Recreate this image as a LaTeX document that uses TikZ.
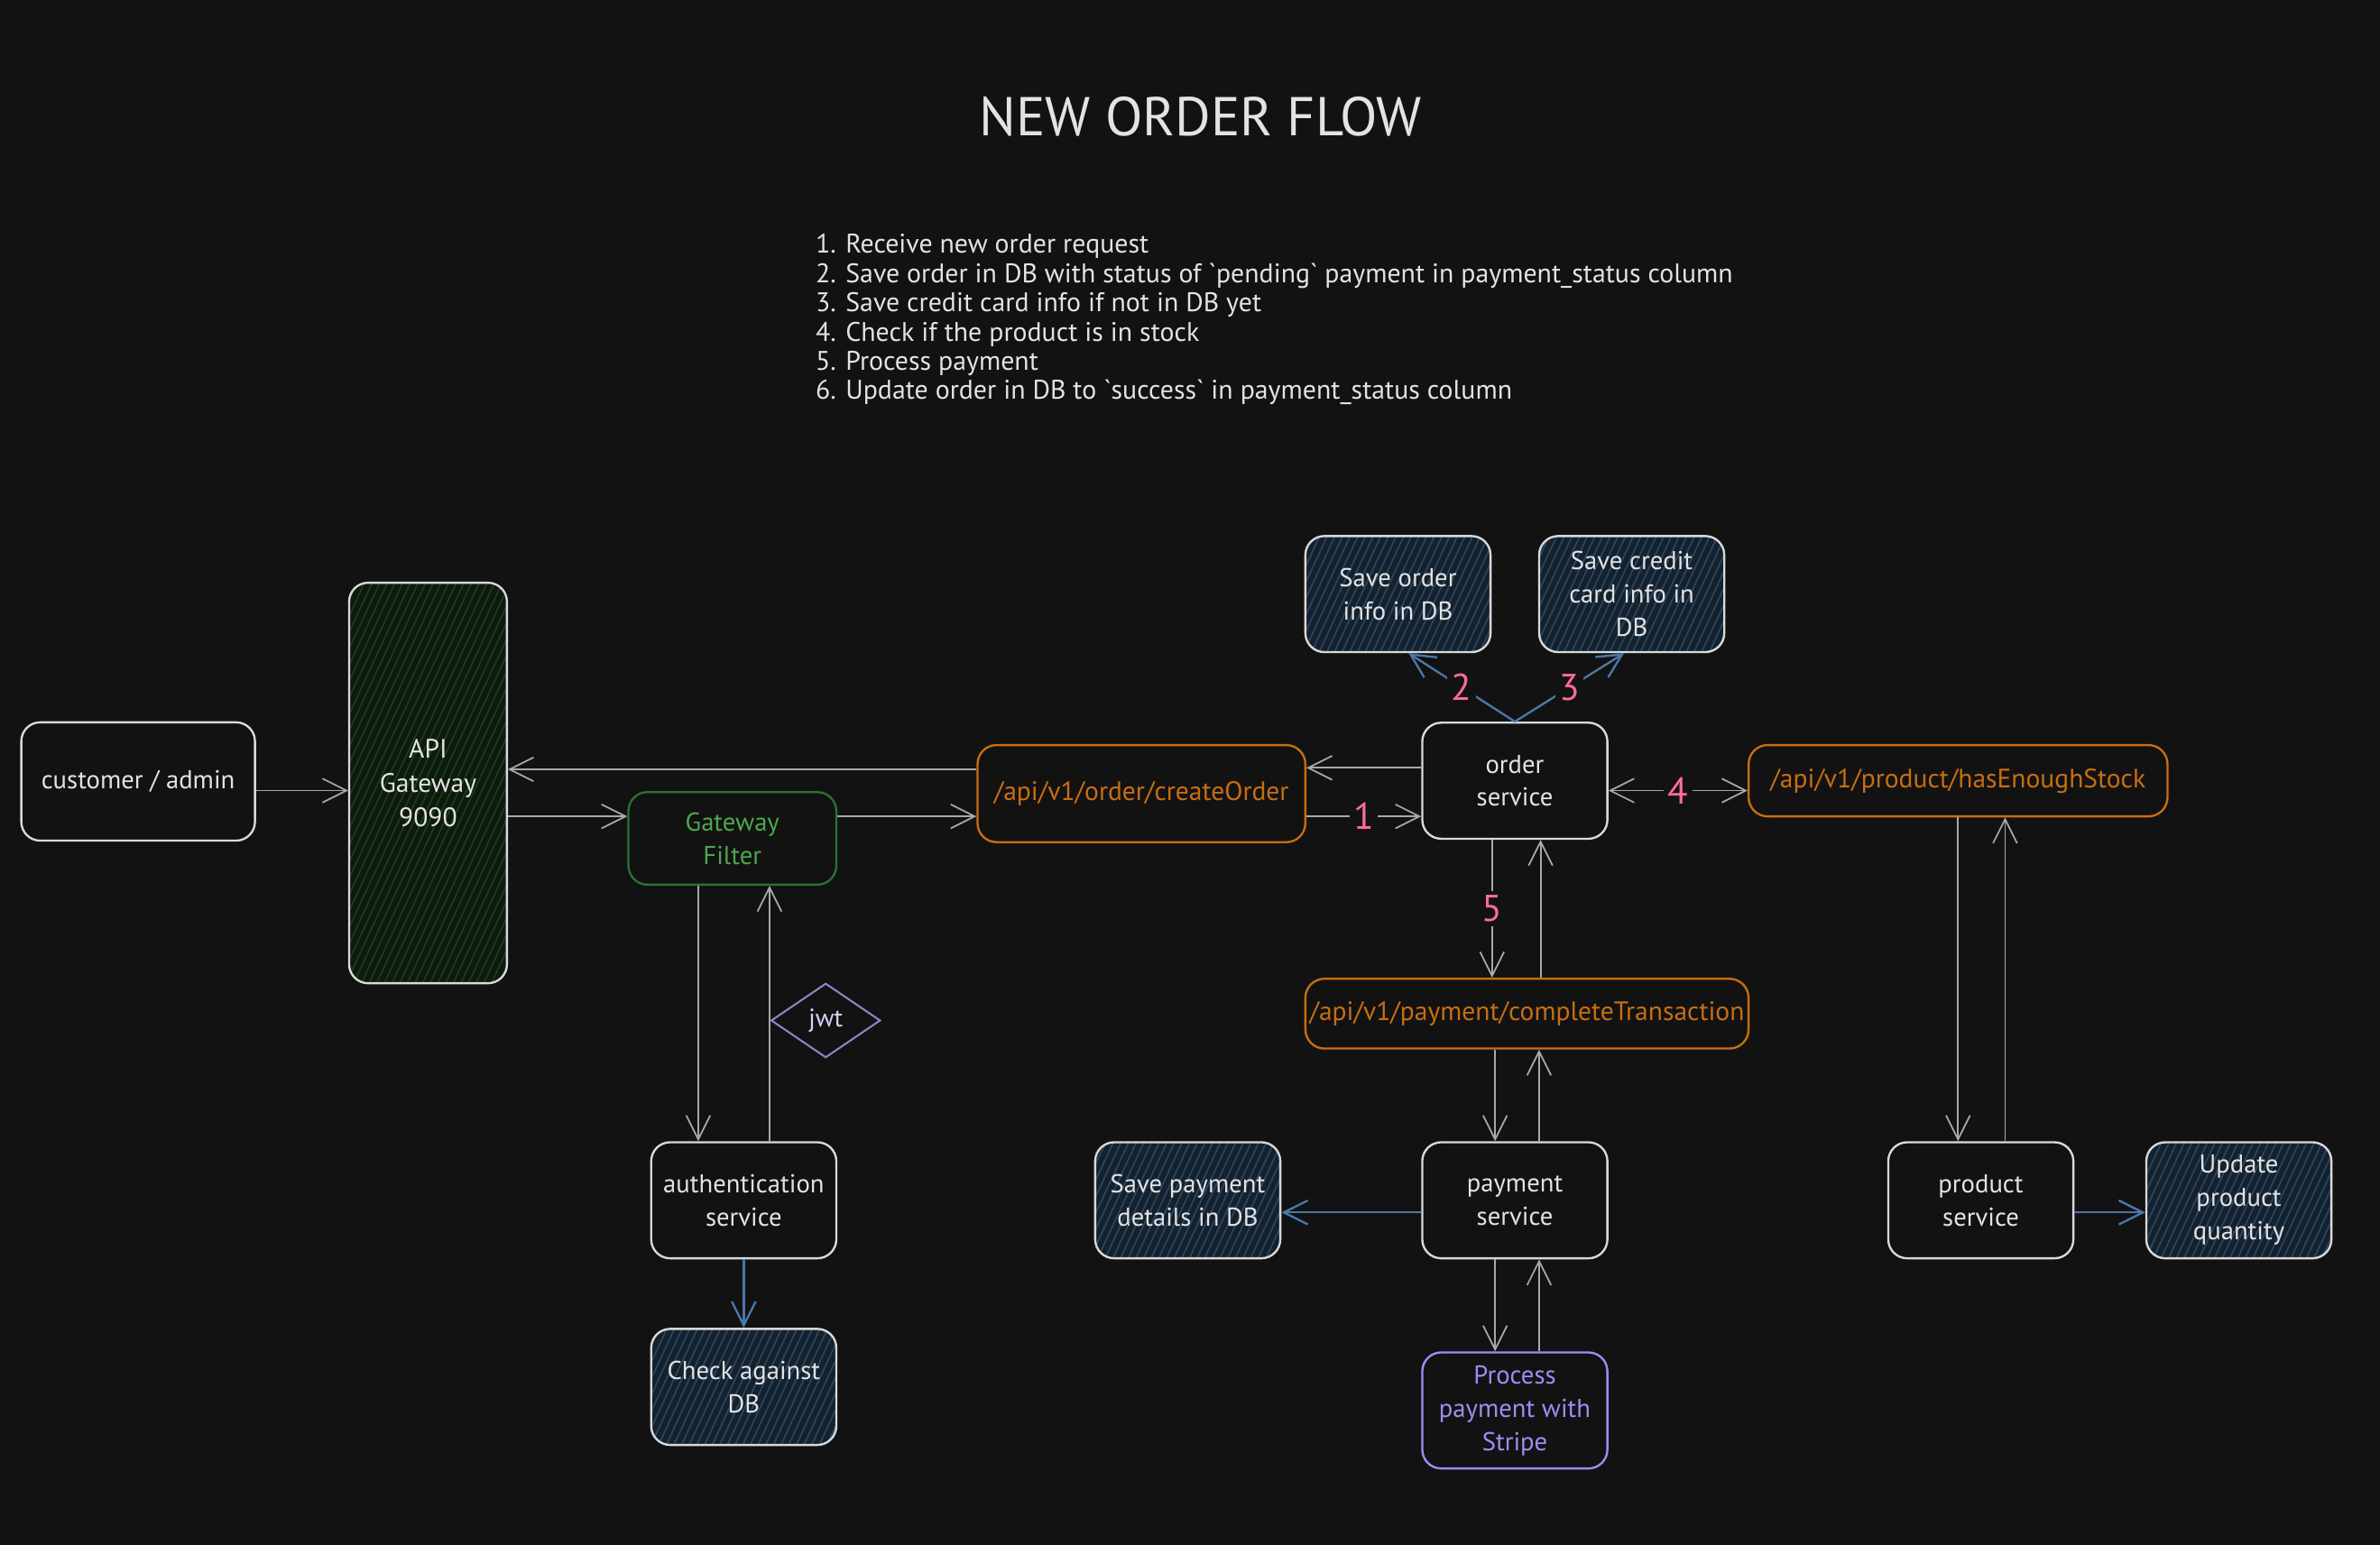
\documentclass[tikz,border=0pt]{standalone}
\usepackage{fontspec}
\setmainfont{PT Sans}
\usetikzlibrary{arrows.meta,patterns.meta,shapes.geometric}
\definecolor{bg}{HTML}{121212}
\definecolor{txt}{HTML}{E3E3E3}
\definecolor{stroke}{HTML}{D9D9D9}
\definecolor{arrgray}{HTML}{A8A8A8}
\definecolor{blueline}{HTML}{4A77A8}
\definecolor{pinklbl}{HTML}{FF6B9D}
\definecolor{orangec}{HTML}{C86E12}
\definecolor{greenb}{HTML}{2E7031}
\definecolor{greent}{HTML}{4EA64E}
\definecolor{purplec}{HTML}{A38BF5}
\definecolor{jwtc}{HTML}{8A86C8}
\definecolor{jwtt}{HTML}{D4D2FF}
\definecolor{blueBase}{HTML}{15212C}
\definecolor{blueHatch}{HTML}{284660}
\definecolor{greenBase}{HTML}{0E1A0E}
\definecolor{greenHatch}{HTML}{1A3C1B}
\begin{document}
\begin{tikzpicture}[x=0.02cm,y=-0.02cm,
  box/.style={draw=stroke, line width=0.8pt, rounded corners=0.25cm, fill=bg, text=txt, align=center,
    font=\fontsize{9.7}{12.5}\selectfont, minimum width=2.44cm, minimum height=1.53cm, inner sep=1pt},
  hatchblue/.style={box, preaction={fill=blueBase}, fill=none,
    pattern={Lines[angle=65,distance=2.6pt,line width=0.6pt]}, pattern color=blueHatch},
  hatchgreen/.style={box, preaction={fill=greenBase}, fill=none,
    pattern={Lines[angle=65,distance=2.6pt,line width=0.6pt]}, pattern color=greenHatch},
  endpoint/.style={box, draw=orangec, text=orangec, font=\fontsize{10}{12}\selectfont},
  arr/.style={draw=arrgray, line width=0.6pt, -{Straight Barb[length=9pt,width=9pt]}},
  dblarr/.style={draw=arrgray, line width=0.6pt, {Straight Barb[length=9pt,width=9pt]}-{Straight Barb[length=9pt,width=9pt]}},
  barr/.style={draw=blueline, line width=0.8pt, -{Straight Barb[length=9pt,width=9pt]}},
  num/.style={text=pinklbl, fill=bg, inner sep=1.5pt, font=\fontsize{14}{14}\selectfont}
]
\fill[bg] (0,0) rectangle (1568,1018);
\useasboundingbox (0,0) rectangle (1568,1018);

% title and list
\node[text=txt, font=\fontsize{20.5}{22}\selectfont] (title) at (791,77) {NEW ORDER FLOW};
\node[text=txt, anchor=north west, align=left, inner sep=0pt, font=\fontsize{10.1}{10.95}\selectfont] (steps) at (537,154) {%
1. Receive new order request\\
2. Save order in DB with status of \textasciigrave pending\textasciigrave\ payment in payment\_status column\\
3. Save credit card info if not in DB yet\\
4. Check if the product is in stock\\
5. Process payment\\
6. Update order in DB to \textasciigrave success\textasciigrave\ in payment\_status column};

% nodes
\node[box, minimum width=3.08cm, minimum height=1.56cm] (cust) at (91,515) {customer / admin};
\node[hatchgreen, minimum width=2.08cm, minimum height=5.28cm, font=\fontsize{10}{13}\selectfont] (api) at (282,516) {API\\Gateway\\9090};
\node[box, draw=greenb, text=greent, minimum width=2.74cm, minimum height=1.22cm] (filter) at (482.5,552.5) {Gateway\\Filter};
\node[endpoint, minimum width=4.32cm, minimum height=1.28cm] (create) at (752,523) {/api/v1/order/createOrder};
\node[box] (order) at (998,514.5) {order\\service};
\node[hatchblue] (saveorder) at (921,391.5) {Save order\\info in DB};
\node[hatchblue] (savecc) at (1075,391.5) {Save credit\\card info in\\DB};
\node[endpoint, minimum width=5.52cm, minimum height=0.94cm] (stock) at (1290,514.5) {/api/v1/product/hasEnoughStock};
\node[endpoint, minimum width=5.84cm, minimum height=0.92cm] (complete) at (1006,668) {/api/v1/payment/completeTransaction};
\node[box] (auth) at (490,791) {authentication\\service};
\node[hatchblue] (check) at (490,914) {Check against\\DB};
\node[diamond, draw=jwtc, line width=0.7pt, text=jwtt, fill=bg, minimum width=1.44cm, minimum height=0.98cm, inner sep=0pt, font=\fontsize{9.5}{11}\selectfont] (jwt) at (544,672.5) {jwt};
\node[hatchblue] (savepay) at (782.5,791) {Save payment\\details in DB};
\node[box] (pay) at (998,791) {payment\\service};
\node[box, draw=purplec, text=purplec] (stripe) at (998,929.5) {Process\\payment with\\Stripe};
\node[box] (product) at (1305,791) {product\\service};
\node[hatchblue] (update) at (1475,791) {Update\\product\\quantity};

% connectors
\draw[arr] ([yshift=-0.12cm]cust.east) -- ([yshift=-0.12cm]cust.east -| api.west);
\draw[arr] ([yshift=0.32cm]create.west) -- ([yshift=0.32cm]create.west -| api.east);
\draw[arr] ([yshift=0.29cm]filter.west -| api.east) -- ([yshift=0.29cm]filter.west);
\draw[arr] ([yshift=0.29cm]filter.east) -- ([yshift=0.29cm]filter.east -| create.west);
\draw[arr] ([yshift=0.17cm]order.west) -- ([yshift=0.17cm]order.west -| create.east);
\draw[arr] ([yshift=-0.47cm]order.west -| create.east) -- node[num] (n1) {1} ([yshift=-0.47cm]order.west);
\draw[dblarr] ([yshift=-0.13cm]order.east) -- node[num] (n4) {4} ([yshift=-0.13cm]order.east -| stock.west);
\draw[barr] (order.north) -- node[num] (n2) {2} ([xshift=0.14cm]saveorder.south);
\draw[barr] (order.north) -- node[num] (n3) {3} ([xshift=-0.1cm]savecc.south);
\draw[arr] ([xshift=-0.3cm]order.south) -- node[num] (n5) {5} ([xshift=-0.3cm]order.south |- complete.north);
\draw[arr] ([xshift=0.34cm]order.south |- complete.north) -- ([xshift=0.34cm]order.south);
\draw[arr] ([xshift=-0.26cm]pay.north |- complete.south) -- ([xshift=-0.26cm]pay.north);
\draw[arr] ([xshift=0.32cm]pay.north) -- ([xshift=0.32cm]pay.north |- complete.south);
\draw[arr] ([xshift=-0.26cm]pay.south) -- ([xshift=-0.26cm]stripe.north);
\draw[arr] ([xshift=0.32cm]stripe.north) -- ([xshift=0.32cm]pay.south);
\draw[barr] ([yshift=-0.16cm]pay.west) -- ([yshift=-0.16cm]pay.west -| savepay.east);
\draw[arr] ([xshift=-0.3cm]product.north |- stock.south) -- ([xshift=-0.3cm]product.north);
\draw[arr] ([xshift=0.32cm]product.north) -- ([xshift=0.32cm]product.north |- stock.south);
\draw[barr] ([yshift=-0.16cm]product.east) -- ([yshift=-0.16cm]product.east -| update.west);
\draw[arr] ([xshift=-0.6cm]auth.north |- filter.south) -- ([xshift=-0.6cm]auth.north);
\draw[arr] ([xshift=0.34cm]auth.north) -- ([xshift=0.34cm]auth.north |- filter.south);
\draw[barr] (auth.south) -- (check.north);
\end{tikzpicture}
\end{document}
